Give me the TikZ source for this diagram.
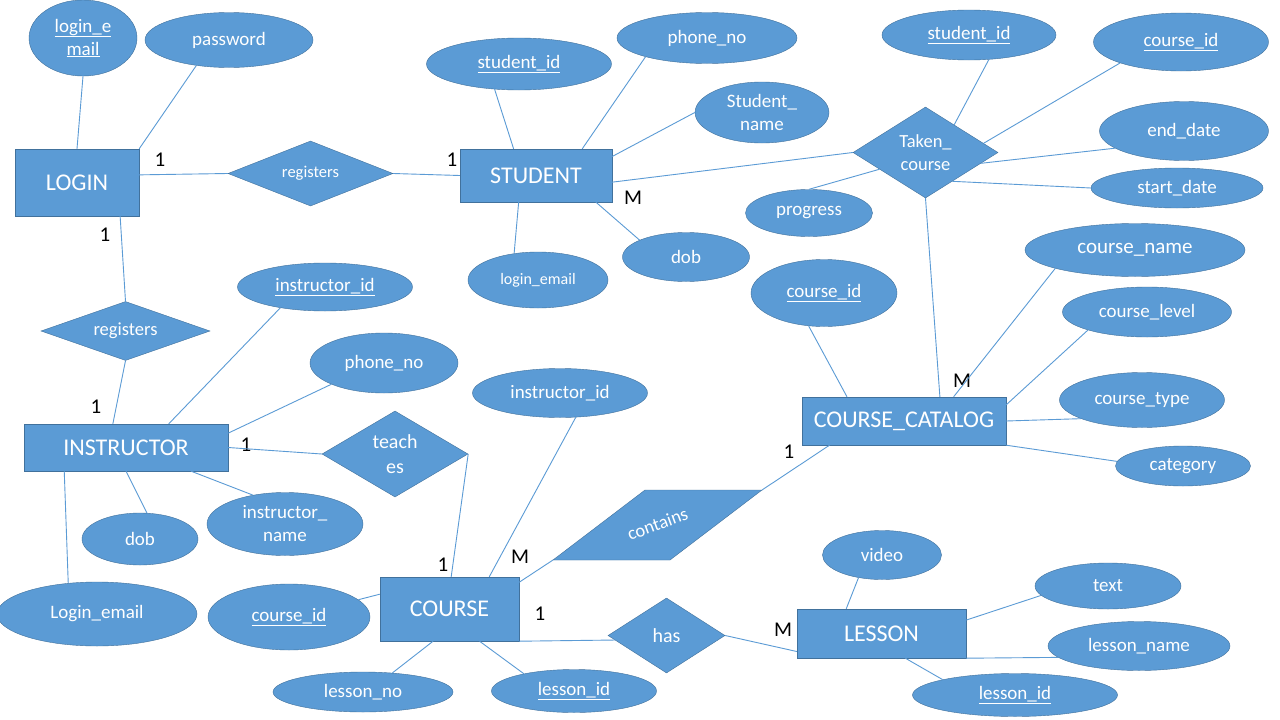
\documentclass[tikz,border=0pt]{standalone}
\usepackage{fontspec}
\setmainfont{Carlito}
\usetikzlibrary{shapes.geometric}
\definecolor{erblue}{HTML}{5B9BD5}
\definecolor{erdark}{HTML}{41719C}
\tikzset{
  entity/.style={draw=erdark, fill=erblue, text=white, inner sep=0pt, font=\fontsize{24}{29}\selectfont},
  attr/.style={ellipse, draw=erdark, fill=erblue, text=white, inner sep=0pt, align=center, font=\fontsize{19}{23}\selectfont},
  rel/.style={diamond, draw=erdark, fill=erblue, text=white, inner sep=0pt, align=center, font=\fontsize{18.5}{23}\selectfont},
  card/.style={font=\fontsize{21}{25}\selectfont},
  link/.style={draw=erblue, line width=0.9pt},
  sz/.style 2 args={minimum width=#1, minimum height=#2},
}
\begin{document}
\begin{tikzpicture}[x=1pt,y=-1pt]
\fill[white] (0,0) rectangle (1280,720);
\useasboundingbox (0,0) rectangle (1280,720);

\node[entity, sz={124}{67}] (login) at (77,182.5) {LOGIN};
\node[entity, sz={152}{53}] (student) at (536,175.5) {STUDENT};
\node[entity, sz={204}{47}] (instructor) at (126,447.5) {INSTRUCTOR};
\node[entity, sz={139}{64}] (course) at (449.5,609) {COURSE};
\node[entity, sz={204}{48}] (catalog) at (904,421) {COURSE\_CATALOG};
\node[entity, sz={169}{49}] (lesson) at (881.5,633.5) {LESSON};

\node[rel, sz={165}{65}, shape aspect=2.5, font=\fontsize{16.5}{20}\selectfont] (regtop) at (310.5,173.5) {registers};
\node[rel, sz={169}{59}, shape aspect=2.8] (regbot) at (125.5,331) {registers};
\node[rel, sz={145}{91}, shape aspect=1.6] (taken) at (925.5,152.5) {Taken\_\\course};
\node[rel, sz={146}{86}, shape aspect=1.7, font=\fontsize{20}{25}\selectfont] (teaches) at (395,454) {teach\\es};
\node[rel, sz={117}{75}, shape aspect=1.6, font=\fontsize{20}{25}\selectfont] (has) at (666.5,635.5) {has};
\filldraw[draw=erdark, fill=erblue] (553,560) coordinate (containsbl) -- (670,560) -- (762,490) coordinate (containstr) -- (645,490) -- cycle;
\node[rotate=20, text=white, font=\fontsize{18.5}{23}\selectfont] (contains) at (657.5,524) {contains};

\node[attr, sz={108}{76}] (loginmail) at (83,38) {\underline{login\_e}\\\underline{mail}};
\node[attr, sz={168}{55}] (password) at (229,40) {password};
\node[attr, sz={185}{52}] (sid) at (519,64) {\underline{student\_id}};
\node[attr, sz={180}{51}] (sphone) at (707,38) {phone\_no};
\node[attr, sz={134}{61}] (sname) at (762,112.5) {Student\_\\name};
\node[attr, sz={140}{56}, font=\fontsize{16}{20}\selectfont] (smail) at (538,280) {login\_email};
\node[attr, sz={127}{49}] (sdob) at (686,257) {dob};
\node[attr, sz={174}{50}] (tsid) at (969,35) {\underline{student\_id}};
\node[attr, sz={175}{58}] (tcid) at (1181,42) {\underline{course\_id}};
\node[attr, sz={169}{59}] (enddate) at (1184,131) {end\_date};
\node[attr, sz={172}{40}] (startdate) at (1177,188) {start\_date};
\node[attr, sz={127}{47}] (progress) at (809,213) {progress};
\node[attr, sz={146}{67}] (ccid) at (824,293) {\underline{course\_id}};
\node[attr, sz={220}{53}, font=\fontsize{21}{25}\selectfont] (cname) at (1135,250) {course\_name};
\node[attr, sz={169}{50}] (clevel) at (1147,312) {course\_level};
\node[attr, sz={165}{55}] (ctype) at (1142,400) {course\_type};
\node[attr, sz={135}{40}] (category) at (1183,466) {category};
\node[attr, sz={175}{49}] (ciid) at (560,393) {instructor\_id};
\node[attr, sz={175}{48}] (iid) at (325,287) {\underline{instructor\_id}};
\node[attr, sz={148}{60}] (iphone) at (384,363) {phone\_no};
\node[attr, sz={156}{63}] (iname) at (285,524) {instructor\_\\name};
\node[attr, sz={116}{52}] (idob) at (140,539) {dob};
\node[attr, sz={200}{64}] (imail) at (97,614) {Login\_email};
\node[attr, sz={162}{66}] (coid) at (289,617) {\underline{course\_id}};
\node[attr, sz={180}{40}] (lessonno) at (363,692) {lesson\_no};
\node[attr, sz={165}{43}] (clid) at (574,691) {\underline{lesson\_id}};
\node[attr, sz={119}{49}] (video) at (882,555) {video};
\node[attr, sz={146}{46}] (ltext) at (1108,586) {text};
\node[attr, sz={182}{49}] (lname) at (1139,646) {lesson\_name};
\node[attr, sz={205}{43}] (lid) at (1015,695) {\underline{lesson\_id}};

\node[card] (c1) at (160,160) {1};
\node[card] (c2) at (452,160) {1};
\node[card] (c3) at (633,198) {M};
\node[card] (c4) at (105,235) {1};
\node[card] (c5) at (96,407) {1};
\node[card] (c6) at (246,445) {1};
\node[card] (c7) at (443,565) {1};
\node[card] (c8) at (520,557) {M};
\node[card] (c9) at (540,614) {1};
\node[card] (c10) at (783,630) {M};
\node[card] (c11) at (789,452) {1};
\node[card] (c12) at (962,381) {M};

\draw[link] (loginmail.south) -- (login.north);
\draw[link] (password.218) -- (login.north east);
\draw[link] (login.7) -- (regtop.west);
\draw[link] (regtop.east) -- (student.west);
\draw[link] (login.-38) -- (regbot.north);
\draw[link] (regbot.south) -- (instructor.119);
\draw[link] (sid.226) -- (student.130);
\draw[link] (sphone.197) -- (student.30);
\draw[link] (sname.west) -- (student.14);
\draw[link] (smail.132) -- (student.237);
\draw[link] (sdob.160) -- (student.-24);
\draw[link] (student.-5) -- (taken.west);
\draw[link] (taken.44) -- (tsid.-51);
\draw[link] (taken.9) -- (tcid.199);
\draw[link] (taken.-11) -- (enddate.194);
\draw[link] (taken.-47) -- (startdate.west);
\draw[link] (taken.200) -- (progress.north);
\draw[link] (taken.south) -- (catalog.34);
\draw[link] (ccid.245) -- (catalog.157);
\draw[link] (cname.193) -- (catalog.26);
\draw[link] (clevel.197) -- (catalog.9);
\draw[link] (ctype.197) -- (catalog.east);
\draw[link] (category.176) -- (catalog.south east);
\draw[link] (catalog.198) -- (containstr);
\draw[link] (course.21) -- (containsbl);
\draw[link] (ciid.-57) -- (course.39);
\draw[link] (teaches.east) -- (course.87);
\draw[link] (instructor.east) -- (teaches.west);
\draw[link] (iid.205) -- (instructor.29);
\draw[link] (iphone.202) -- (instructor.8);
\draw[link] (iname.138) -- (instructor.-20);
\draw[link] (idob.75) -- (instructor.south);
\draw[link] (imail.133) -- (instructor.201);
\draw[link] (coid.14) -- (course.168);
\draw[link] (lessonno.33) -- (course.243);
\draw[link] (clid.161) -- (course.-47);
\draw[link] (course.south east) -- (has.185);
\draw[link] (has.east) -- (lesson.192);
\draw[link] (video.224) -- (lesson.145);
\draw[link] (ltext.188) -- (lesson.9);
\draw[link] (lesson.south east) -- (lname.188);
\draw[link] (lesson.-46) -- (lid.168);
\end{tikzpicture}
\end{document}
